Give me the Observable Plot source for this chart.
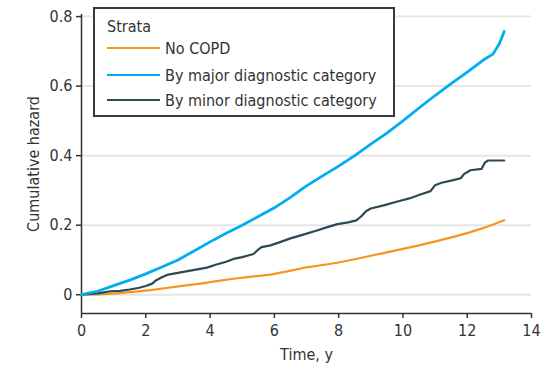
<!DOCTYPE html>
<html><head><meta charset="utf-8">
<script src="https://cdn.jsdelivr.net/npm/d3@7"></script>
<script src="https://cdn.jsdelivr.net/npm/@observablehq/plot@0.6"></script>
<style>
html,body{margin:0;padding:0;background:#fff;}
#wrap{position:relative;width:541px;height:376px;font-family:"DejaVu Sans Condensed",sans-serif;color:#333;}
#legend{position:absolute;left:93px;top:7px;width:298px;height:106px;border:2px solid #3a3a3a;background:#fff;font-size:16px;}
#legend .t{position:absolute;left:12px;top:8px;}
#legend .row{position:absolute;left:12px;height:20px;display:flex;align-items:center;}
#legend .sw{width:53px;height:0;border-top:2.5px solid;margin-right:5px;}
</style></head><body>
<div id="wrap"><div id="chart"></div><div id="legend"></div></div>
<script>
const legendTitle = "Strata";
const seriesNames = ["No COPD", "By major diagnostic category", "By minor diagnostic category"];
const seriesColors = ["#f7941d", "#00aeef", "#2b4a52"];

const noCopdT = [0,0.5,1.1,1.6,2.15,2.7,3.2,3.7,4.2,4.73,5.3,5.88,6.4,6.9,7.4,7.96,8.5,9.0,9.5,10,10.5,11.08,11.6,12.1,12.6,13.15];
const noCopdV = [0,0.001,0.004,0.008,0.013,0.02,0.026,0.032,0.039,0.046,0.052,0.058,0.067,0.077,0.084,0.092,0.102,0.112,0.122,0.132,0.142,0.155,0.167,0.18,0.195,0.214];

const majorT = [0,0.5,1,1.5,2,2.5,3,3.5,4,4.5,5,5.5,6,6.5,7,7.5,8,8.5,9,9.5,10,10.5,11,11.5,12,12.5,12.8,13,13.15];
const majorV = [0,0.01,0.026,0.042,0.06,0.08,0.1,0.126,0.152,0.177,0.2,0.225,0.25,0.28,0.313,0.342,0.37,0.4,0.433,0.465,0.5,0.537,0.573,0.607,0.64,0.675,0.692,0.722,0.757];

const minorT = [0,0.5,0.9,1.2,1.5,1.8,2.0,2.2,2.3,2.5,2.7,3.0,3.3,3.6,3.9,4.2,4.5,4.73,5.0,5.35,5.5,5.6,5.88,6.2,6.5,6.9,7.3,7.6,7.96,8.3,8.55,8.7,8.85,9.0,9.4,9.83,10.2,10.5,10.86,11.0,11.2,11.5,11.8,11.9,12.1,12.45,12.55,12.65,13.15];
const minorV = [0,0.004,0.01,0.011,0.015,0.02,0.025,0.032,0.04,0.05,0.058,0.063,0.068,0.073,0.078,0.087,0.095,0.103,0.108,0.117,0.13,0.137,0.142,0.152,0.162,0.173,0.184,0.193,0.203,0.208,0.214,0.225,0.24,0.248,0.257,0.268,0.277,0.287,0.298,0.315,0.322,0.328,0.335,0.347,0.358,0.362,0.38,0.386,0.386];

const xTicks = [0,2,4,6,8,10,12,14];
const yTicks = [0,0.2,0.4,0.6,0.8];
const yTickLabels = ["0","0.2","0.4","0.6","0.8"];
const xDomain = [0,14];
const yDomain = [-0.054,0.806];
const xLabel = "Time, y";
const yLabel = "Cumulative hazard";

const rows = [];
[[noCopdT,noCopdV],[majorT,majorV],[minorT,minorV]].forEach(([ts,vs],i)=>{
  ts.forEach((t,j)=>rows.push({series:seriesNames[i], t, v:vs[j]}));
});

const font = '"DejaVu Sans Condensed",sans-serif';
const chart = Plot.plot({
  width:541, height:376,
  marginLeft:81, marginRight:10, marginTop:14, marginBottom:63,
  style:{fontFamily:font, fontSize:"16px", color:"#333", background:"#fff"},
  x:{domain:xDomain},
  y:{domain:yDomain},
  color:{domain:seriesNames, range:seriesColors},
  marks:[
    Plot.ruleY(yTicks,{stroke:"#e6e6e6", strokeWidth:2}),
    Plot.ruleX([xDomain[0]],{stroke:"#333", strokeWidth:1.5}),
    Plot.ruleY([yDomain[0]],{stroke:"#333", strokeWidth:1.5}),
    Plot.axisX({ticks:xTicks, tickSize:5, tickPadding:6, label:xLabel, labelAnchor:"center", labelArrow:"none", labelOffset:46, stroke:"#333", strokeWidth:1.5}),
    Plot.axisY({ticks:yTicks, tickFormat:(d)=>yTickLabels[yTicks.indexOf(d)], tickSize:5, tickPadding:4, label:yLabel, labelAnchor:"center", labelArrow:"none", labelOffset:54, stroke:"#333", strokeWidth:1.5}),
    Plot.line(rows.filter(d=>d.series===seriesNames[0]),{x:"t",y:"v",stroke:"series",strokeWidth:2.2}),
    Plot.line(rows.filter(d=>d.series===seriesNames[2]),{x:"t",y:"v",stroke:"series",strokeWidth:2.2}),
    Plot.line(rows.filter(d=>d.series===seriesNames[1]),{x:"t",y:"v",stroke:"series",strokeWidth:2.8})
  ]
});
document.getElementById("chart").appendChild(chart);

const lg = document.getElementById("legend");
const t = document.createElement("div"); t.className="t"; t.textContent=legendTitle; lg.appendChild(t);
const tops=[29,56,81];
seriesNames.forEach((n,i)=>{
  const r=document.createElement("div"); r.className="row"; r.style.top=tops[i]+"px";
  const s=document.createElement("span"); s.className="sw"; s.style.borderTopColor=seriesColors[i];
  const l=document.createElement("span"); l.textContent=n;
  r.appendChild(s); r.appendChild(l); lg.appendChild(r);
});
</script>
</body></html>
